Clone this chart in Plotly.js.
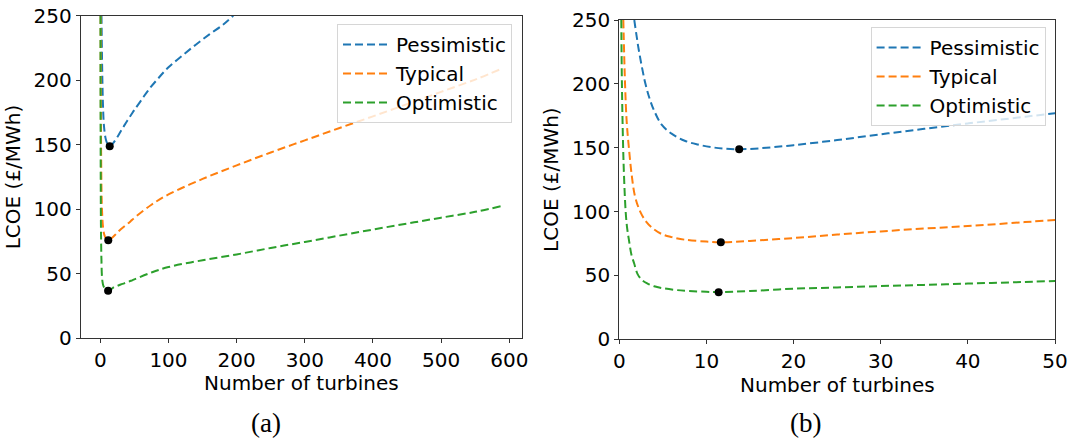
<!DOCTYPE html>
<html>
<head>
<meta charset="utf-8">
<script src="https://cdn.plot.ly/plotly-3.0.1.min.js"></script>
<style>html,body{margin:0;padding:0;background:#fff;}#chart{width:1069px;height:441px;}</style>
</head>
<body>
<div id="chart"></div>
<script>
// Number of turbines and LCOE (£/MWh)
const pessimisticN    = [1.72, 2.2, 2.6, 3.0, 3.5, 4.0, 4.86, 6.0, 7.5, 9.0, 10.5, 12.0, 13.76, 16, 20, 25, 30, 35, 40, 45, 50, 60, 70, 85, 100, 120, 140, 160, 180, 195];
const pessimisticLCOE = [250, 228, 213, 200, 188, 179, 168, 161, 155.5, 152.5, 150.5, 149.3, 148.8, 149.5, 152, 156, 160.5, 164.8, 169, 173, 177, 184.5, 192, 201.5, 210, 219, 227.5, 235.5, 243, 250];

const typicalN    = [0.46, 0.66, 0.85, 1.1, 1.4, 1.8, 2.4, 3.1, 4.0, 5.0, 6.0, 7.5, 10, 11.65, 15, 20, 25, 30, 35, 40, 45, 50, 75, 100, 150, 200, 250, 300, 350, 400, 450, 500, 550, 589];
const typicalLCOE = [250, 200, 170, 150, 130, 112, 100, 92, 86, 82, 80, 78, 76.5, 76, 77, 79.3, 82, 84.5, 86.7, 88.7, 91, 93.4, 103.5, 111.5, 123.5, 134, 144, 153.4, 162.8, 172, 181.5, 191, 200.5, 209];

const optimisticN    = [0.23, 0.3, 0.42, 0.53, 0.73, 0.9, 1.1, 1.4, 1.7, 2.1, 2.6, 3.2, 4.0, 5.0, 6.5, 8.0, 10, 11.4, 15, 20, 25, 30, 35, 40, 45, 50, 75, 100, 150, 200, 250, 300, 350, 400, 450, 500, 550, 589];
const optimisticLCOE = [250, 200, 156, 130, 100, 87, 78, 66, 59.5, 51, 46.5, 43.8, 41.5, 40, 38.6, 37.8, 37.2, 37.0, 37.8, 39.6, 40.6, 41.7, 42.6, 43.6, 44.6, 45.7, 51, 55.2, 60.5, 65, 70, 74.7, 79.5, 84.3, 88.9, 93.5, 98, 102.5];

// Optimum (minimum LCOE) points
const optimumN    = [13.76, 11.65, 11.4];
const optimumLCOE = [148.8, 76.0, 36.8];

const seriesNames = ['Pessimistic', 'Typical', 'Optimistic'];
const xTicksLeft  = [0, 100, 200, 300, 400, 500, 600];
const xTicksRight = [0, 10, 20, 30, 40, 50];
const yTicks      = [0, 50, 100, 150, 200, 250];
const panelLabels = ['(a)', '(b)'];
const xTitle = 'Number of turbines';
const yTitle = 'LCOE (£/MWh)';

const colors = ['#1f77b4', '#ff7f0e', '#2ca02c'];
const seriesX = [pessimisticN, typicalN, optimisticN];
const seriesY = [pessimisticLCOE, typicalLCOE, optimisticLCOE];

const traces = [];
[['x', 'y', 'legend'], ['x2', 'y2', 'legend2']].forEach(([xa, ya, lg]) => {
  for (let i = 0; i < 3; i++) {
    traces.push({
      x: seriesX[i], y: seriesY[i], xaxis: xa, yaxis: ya,
      type: 'scatter', mode: 'lines', name: seriesNames[i],
      legend: lg,
      line: {color: colors[i], width: 2, dash: '8px,4px', shape: 'spline', smoothing: 1},
      hoverinfo: 'skip'
    });
  }
  traces.push({
    x: optimumN, y: optimumLCOE, xaxis: xa, yaxis: ya,
    type: 'scatter', mode: 'markers', showlegend: false,
    marker: {color: '#000', size: 8}, hoverinfo: 'skip'
  });
});

const font = {family: 'DejaVu Sans, sans-serif', size: 20, color: '#000'};
const axisCommon = {
  showgrid: false, zeroline: false, showline: true, mirror: true,
  linecolor: '#333', linewidth: 1, ticks: 'outside', ticklen: 4, tickwidth: 1,
  tickcolor: '#333', tickfont: font, automargin: false
};

const legendCommon = {
  xanchor: 'right', yanchor: 'top', traceorder: 'normal',
  bgcolor: 'rgba(255,255,255,0.8)', bordercolor: '#d6d6d6', borderwidth: 1,
  font: font, tracegroupgap: 0, itemwidth: 48
};

const panelFont = {family: 'Liberation Serif, serif', size: 27, color: '#000'};

const layout = {
  width: 1069, height: 441,
  margin: {l: 0, r: 0, t: 0, b: 0},
  paper_bgcolor: '#fff', plot_bgcolor: '#fff',
  font: font,
  showlegend: true,
  xaxis: Object.assign({}, axisCommon, {
    domain: [80.7/1069, 521.7/1069], range: [-28.8, 618.2],
    tickvals: xTicksLeft, anchor: 'y'
  }),
  yaxis: Object.assign({}, axisCommon, {
    domain: [1 - 338.3/441, 1 - 15.7/441], range: [0, 250],
    tickvals: yTicks, anchor: 'x',
    title: {text: yTitle, font: font, standoff: 7}
  }),
  xaxis2: Object.assign({}, axisCommon, {
    domain: [619.3/1069, 1055/1069], range: [0, 50],
    tickvals: xTicksRight, anchor: 'y2'
  }),
  yaxis2: Object.assign({}, axisCommon, {
    domain: [1 - 339.3/441, 1 - 20/441], range: [0, 250],
    tickvals: yTicks, anchor: 'x2',
    title: {text: yTitle, font: font, standoff: 8}
  }),
  legend: Object.assign({}, legendCommon, {x: 512/1069, y: 1 - 24/441}),
  legend2: Object.assign({}, legendCommon, {x: 1045.6/1069, y: 1 - 27/441}),
  annotations: [
    {text: xTitle, x: 301.2/1069, y: 1 - 383/441, xref: 'paper', yref: 'paper',
     xanchor: 'center', yanchor: 'middle', showarrow: false, font: font},
    {text: xTitle, x: 837.2/1069, y: 1 - 384.5/441, xref: 'paper', yref: 'paper',
     xanchor: 'center', yanchor: 'middle', showarrow: false, font: font},
    {text: panelLabels[0], x: 265.5/1069, y: 1 - 423/441, xref: 'paper', yref: 'paper',
     xanchor: 'center', yanchor: 'middle', showarrow: false, font: panelFont},
    {text: panelLabels[1], x: 805.5/1069, y: 1 - 423/441, xref: 'paper', yref: 'paper',
     xanchor: 'center', yanchor: 'middle', showarrow: false, font: panelFont}
  ]
};

Plotly.newPlot('chart', traces, layout, {staticPlot: true, displayModeBar: false});
</script>
</body>
</html>
